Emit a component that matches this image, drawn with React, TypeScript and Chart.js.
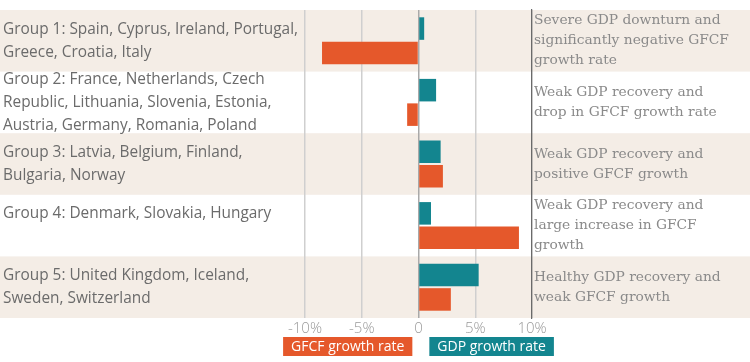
import React, { useEffect, useRef } from "react";
import { Chart, registerables } from "chart.js";

Chart.register(...registerables);

const groups: string[][] = [
  ["Group 1: Spain, Cyprus, Ireland, Portugal,", "Greece, Croatia, Italy"],
  ["Group 2: France, Netherlands, Czech", "Republic, Lithuania, Slovenia, Estonia,", "Austria, Germany, Romania, Poland"],
  ["Group 3: Latvia, Belgium, Finland,", "Bulgaria, Norway"],
  ["Group 4: Denmark, Slovakia, Hungary", ""],
  ["Group 5: United Kingdom, Iceland,", "Sweden, Switzerland"],
];

const descriptions: string[][] = [
  ["Severe GDP downturn and", "significantly negative GFCF", "growth rate"],
  ["Weak GDP recovery and", "drop in GFCF growth rate"],
  ["Weak GDP recovery and", "positive GFCF growth"],
  ["Weak GDP recovery and", "large increase in GFCF", "growth"],
  ["Healthy GDP recovery and", "weak GFCF growth"],
];

const gdpGrowth: number[] = [0.5, 1.55, 1.95, 1.1, 5.3];
const gfcfGrowth: number[] = [-8.5, -1.0, 2.15, 8.85, 2.85];

const xTicks: number[] = [-10, -5, 0, 5, 10];

const TEAL = "#13858f";
const ORANGE = "#e5582b";
const BAND = "#f4ede6";

const bandPlugin = {
  id: "bands",
  beforeDraw(chart: any) {
    const { ctx, scales } = chart;
    const y = scales.y;
    const n = groups.length;
    const step = (y.bottom - y.top) / n;
    ctx.save();
    ctx.fillStyle = BAND;
    for (let i = 0; i < n; i += 2) {
      const c = y.getPixelForValue(i);
      ctx.fillRect(0, c - step / 2, chart.width, step);
    }
    ctx.restore();
  },
};

const legendPlugin = {
  id: "boxLegend",
  afterDraw(chart: any) {
    const { ctx, chartArea } = chart;
    const order = [1, 0];
    const font = "14px 'Open Sans'";
    ctx.save();
    ctx.font = font;
    const pad = 8;
    const gap = 17;
    const widths = order.map((i) => ctx.measureText(chart.data.datasets[i].label).width + pad * 2);
    const total = widths[0] + gap + widths[1];
    let x = (chartArea.left + chartArea.right) / 2 - total / 2;
    const top = 337;
    const h = 19;
    order.forEach((di, k) => {
      const ds = chart.data.datasets[di];
      ctx.fillStyle = ds.backgroundColor;
      ctx.fillRect(x, top, widths[k], h);
      ctx.fillStyle = "#ffffff";
      ctx.textAlign = "center";
      ctx.textBaseline = "middle";
      ctx.fillText(ds.label, x + widths[k] / 2, top + h / 2 + 0.5);
      x += widths[k] + gap;
    });
    ctx.restore();
  },
};

const noVPad = (scale: any, width: number) => {
  scale.width = width;
  scale.paddingTop = 0;
  scale.paddingBottom = 0;
};

export default function App() {
  const ref = useRef<HTMLCanvasElement | null>(null);

  useEffect(() => {
    if (!ref.current) return;
    const chart = new Chart(ref.current, {
      type: "bar",
      data: {
        labels: groups as any,
        datasets: [
          {
            label: "GDP growth rate",
            data: gdpGrowth,
            backgroundColor: TEAL,
            categoryPercentage: 0.795,
            barPercentage: 0.92,
          },
          {
            label: "GFCF growth rate",
            data: gfcfGrowth,
            backgroundColor: ORANGE,
            categoryPercentage: 0.795,
            barPercentage: 0.92,
          },
        ],
      },
      options: {
        indexAxis: "y",
        animation: false,
        responsive: false,
        layout: { padding: { left: 3, top: 10, right: 0, bottom: 0 } },
        plugins: {
          legend: { display: false },
          tooltip: { enabled: false },
        },
        scales: {
          x: {
            type: "linear",
            min: -10,
            max: 10,
            afterBuildTicks: (scale: any) => {
              scale.ticks = xTicks.map((v) => ({ value: v }));
            },
            afterFit: (scale: any) => {
              scale.height = 44;
            },
            border: { display: false },
            grid: {
              drawTicks: false,
              color: (ctx: any) => {
                const v = ctx.tick ? ctx.tick.value : 0;
                if (v === 10) return "#6a6a6a";
                if (v === 0) return "#a9a9a9";
                return "#cfcfcf";
              },
              lineWidth: (ctx: any) => (ctx.tick && ctx.tick.value === 10 ? 1.2 : 1.5),
            },
            ticks: {
              padding: 2,
              color: "#9a9a9a",
              font: { family: "'Open Sans'", size: 15, weight: "300" as any },
              callback: (v: any) => (Number(v) === 0 ? "0" : `${v}%`),
            },
          },
          y: {
            type: "category",
            position: "left",
            afterFit: (scale: any) => noVPad(scale, 302),
            border: { display: false },
            grid: { display: false, drawTicks: false },
            ticks: {
              crossAlign: "far",
              padding: 0,
              color: "#6b6b6b",
              autoSkip: false,
              font: { family: "'Open Sans'", size: 15.4, lineHeight: 1.5 },
            },
          },
          y2: {
            type: "category",
            position: "right",
            labels: descriptions as any,
            offset: true,
            afterFit: (scale: any) => noVPad(scale, 218),
            border: { display: true, color: "#6a6a6a", width: 1.2 },
            grid: { display: false, drawTicks: false },
            ticks: {
              crossAlign: "near",
              padding: 2,
              color: "#8a8a8a",
              autoSkip: false,
              font: { family: "'DejaVu Serif'", size: 13.8, lineHeight: 1.45 },
            },
          },
        },
      },
      plugins: [bandPlugin, legendPlugin],
    });
    return () => chart.destroy();
  }, []);

  return (
    <div style={{ position: "absolute", left: 0, top: 0, width: 750, height: 362, background: "#ffffff" }}>
      <canvas ref={ref} width={750} height={362} />
    </div>
  );
}
